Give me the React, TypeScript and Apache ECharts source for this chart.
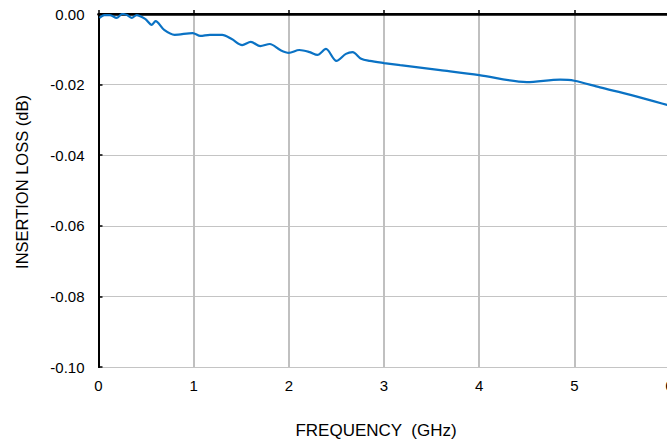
import React, { useEffect, useRef } from "react";
import * as echarts from "echarts";

const freqGHz = [0.01, 0.06, 0.12, 0.19, 0.25, 0.3, 0.35, 0.4, 0.49, 0.56, 0.6, 0.69, 0.8, 0.99, 1.07, 1.17, 1.3, 1.4, 1.51, 1.6, 1.7, 1.8, 1.91, 2.0, 2.11, 2.22, 2.3, 2.39, 2.5, 2.6, 2.67, 2.76, 2.85, 3.0, 3.17, 3.59, 4.0, 4.5, 4.85, 5.0, 5.27, 5.59, 5.98, 6.0];
const lossDb = [-0.0011, -0.0003, -0.0003, -0.0011, 0.0, -0.0003, -0.0011, -0.0003, -0.0014, -0.0031, -0.002, -0.0045, -0.0059, -0.0054, -0.0062, -0.0059, -0.0059, -0.0071, -0.0088, -0.0079, -0.0091, -0.0085, -0.0102, -0.011, -0.0102, -0.0108, -0.0116, -0.0099, -0.0133, -0.0113, -0.0108, -0.0127, -0.0133, -0.0139, -0.0145, -0.0159, -0.0173, -0.0193, -0.0186, -0.0189, -0.0208, -0.0229, -0.0258, -0.026];
const xTicks = { min: 0, max: 6, interval: 1 };
const yTicks = { min: -0.1, max: 0, interval: 0.02 };
const xName = "FREQUENCY  (GHz)";
const yName = "INSERTION LOSS (dB)";

const FONT = "'Liberation Sans', Arial, sans-serif";

export default function App() {
  const ref = useRef<HTMLDivElement>(null);
  useEffect(() => {
    if (!ref.current) return;
    const chart = echarts.init(ref.current, undefined, { renderer: "svg" });
    chart.setOption({
      animation: false,
      backgroundColor: "#ffffff",
      grid: { left: 98.5, top: 14, width: 571, height: 353, containLabel: false },
      xAxis: [
        {
          type: "value",
          min: xTicks.min,
          max: xTicks.max,
          interval: xTicks.interval,
          position: "bottom",
          axisLine: { show: true, lineStyle: { color: "#000", width: 2 } },
          axisTick: { show: true, inside: true, length: 4, lineStyle: { color: "#000", width: 1.5 } },
          axisLabel: { color: "#000", fontSize: 15, fontFamily: FONT, margin: 11 },
          splitLine: { show: true, lineStyle: { color: "#c0c0c0", width: 2 } },
        },
        {
          type: "value",
          min: xTicks.min,
          max: xTicks.max,
          interval: xTicks.interval,
          position: "top",
          axisLine: { show: true, lineStyle: { color: "#000", width: 2.5 } },
          axisTick: { show: false },
          axisLabel: { show: false },
          splitLine: { show: false },
        },
      ],
      yAxis: [
        {
          type: "value",
          min: yTicks.min,
          max: yTicks.max,
          interval: yTicks.interval,
          position: "left",
          axisLine: { show: true, lineStyle: { color: "#000", width: 2 } },
          axisTick: { show: true, inside: true, length: 4, lineStyle: { color: "#000", width: 1.5 } },
          axisLabel: {
            color: "#000",
            fontSize: 15,
            fontFamily: FONT,
            margin: 14,
            formatter: (v: number) => v.toFixed(2),
          },
          splitLine: { show: true, lineStyle: { color: "#c4c4c4", width: 1 } },
        },
        {
          type: "value",
          min: yTicks.min,
          max: yTicks.max,
          interval: yTicks.interval,
          position: "right",
          axisLine: { show: true, lineStyle: { color: "#000", width: 2 } },
          axisTick: { show: false },
          axisLabel: { show: false },
          splitLine: { show: false },
        },
      ],
      graphic: [
        {
          type: "text",
          x: 376,
          y: 430,
          style: { text: xName, fill: "#000", font: `17px ${FONT}`, textAlign: "center", textVerticalAlign: "middle" },
        },
        {
          type: "text",
          x: 22,
          y: 182,
          rotation: Math.PI / 2,
          style: { text: yName, fill: "#000", font: `16.5px ${FONT}`, textAlign: "center", textVerticalAlign: "middle" },
        },
      ],
      series: [
        {
          type: "line",
          data: freqGHz.map((f, i) => [f, lossDb[i]]),
          showSymbol: false,
          smooth: 0.3,
          lineStyle: { color: "#0a72c4", width: 2.2 },
          clip: true,
        },
      ],
    });
    return () => chart.dispose();
  }, []);
  return (
    <div style={{ position: "fixed", left: 0, top: 0, width: 667, height: 442, overflow: "hidden", background: "#fff" }}>
      <div ref={ref} style={{ width: 720, height: 442 }} />
    </div>
  );
}
